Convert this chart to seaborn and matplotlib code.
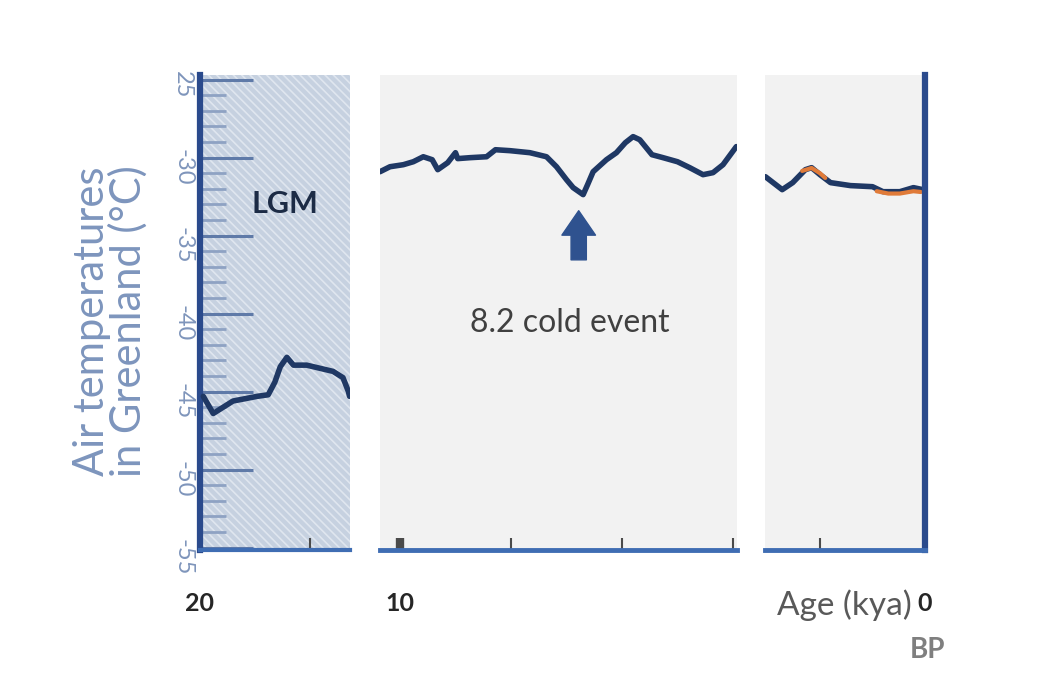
import numpy as np
import pandas as pd
import matplotlib
matplotlib.use("Agg")
import matplotlib.pyplot as plt
import seaborn as sns
from matplotlib.patches import Rectangle

# ---------------- data (age in kya, temperature in degC) ----------------
left_age = [19.97, 19.88, 19.70, 19.48, 19.38, 19.32, 19.27, 19.21, 19.15,
            19.03, 18.91, 18.79, 18.70, 18.65, 18.64]
left_temp = [-45.3, -46.4, -45.6, -45.3, -45.2, -44.4, -43.4, -42.8, -43.3,
             -43.3, -43.5, -43.7, -44.1, -45.0, -45.3]

mid_age = [10.18, 10.09, 9.97, 9.88, 9.79, 9.71, 9.66, 9.57, 9.50, 9.48, 9.37,
           9.22, 9.14, 9.01, 8.83, 8.68, 8.59, 8.50, 8.44, 8.35, 8.31, 8.26,
           8.14, 8.05, 7.97, 7.90, 7.84, 7.73, 7.63, 7.50, 7.39, 7.27, 7.18,
           7.09, 6.97]
mid_temp = [-30.90, -30.58, -30.45, -30.26, -29.94, -30.13, -30.77, -30.32,
            -29.68, -30.06, -30.00, -29.94, -29.49, -29.55, -29.68, -29.94,
            -30.58, -31.41, -31.92, -32.37, -31.73, -30.90, -30.13, -29.68,
            -29.04, -28.65, -28.85, -29.81, -30.00, -30.26, -30.64, -31.09,
            -30.96, -30.45, -29.29]

right_age = [1.52, 1.36, 1.26, 1.14, 1.08, 1.00, 0.90, 0.71, 0.50, 0.40, 0.24,
             0.11, 0.02]
right_temp = [-31.22, -32.05, -31.60, -30.77, -30.64, -31.09, -31.60, -31.79,
              -31.86, -32.18, -32.18, -31.92, -32.05]

orange_a_age = [1.17, 1.08, 1.00, 0.95]
orange_a_temp = [-30.85, -30.66, -31.00, -31.30]
orange_b_age = [0.46, 0.35, 0.24, 0.11, 0.04]
orange_b_temp = [-32.15, -32.30, -32.30, -32.15, -32.20]

y_ticks = [-55, -50, -45, -40, -35, -30, -25]
y_tick_labels = ["-55", "-50", "-45", "-40", "-35", "-30", "25"]

# ---------------- style ----------------
sns.set_theme(style="white")
plt.rcParams["font.family"] = ["Lato", "DejaVu Sans"]
plt.rcParams["hatch.linewidth"] = 1.2

NAVY = "#1f3864"
ORANGE = "#e07b39"
AXBLUE = "#3f6db3"
DARKBLUE = "#2a4a8c"

fig = plt.figure(figsize=(10.5, 7), dpi=100)
fig.patch.set_facecolor("white")

W, H = 1050, 700
ybot, ytop = 550, 75


def rect(x0, x1):
    return [x0 / W, 1 - ybot / H, (x1 - x0) / W, (ybot - ytop) / H]


ax_l = fig.add_axes(rect(200, 350))
ax_m = fig.add_axes(rect(380, 737))
ax_r = fig.add_axes(rect(765, 925))

ylim = (-55.15, -24.7)

# ---------- left panel ----------
ax_l.set_facecolor("#c6d1e0")
ax_l.add_patch(Rectangle((0, 0), 1, 1, transform=ax_l.transAxes,
                         facecolor="#c6d1e0", edgecolor="#dfe6ef",
                         hatch="\\\\\\\\", lw=0, zorder=0))
sns.lineplot(x=left_age, y=left_temp, ax=ax_l, color=NAVY, lw=4,
             sort=False, zorder=5)
ax_l.set_xlim(20.0, 18.636)
ax_l.set_ylim(*ylim)
for s in ["top", "right"]:
    ax_l.spines[s].set_visible(False)
ax_l.spines["left"].set_color(DARKBLUE)
ax_l.spines["left"].set_linewidth(4.5)
ax_l.spines["bottom"].set_color(AXBLUE)
ax_l.spines["bottom"].set_linewidth(3)
ax_l.set_yticks(y_ticks)
ax_l.set_yticklabels(y_tick_labels)
ax_l.set_yticks(np.arange(-55, -24, 1), minor=True)
ax_l.tick_params(axis="y", which="major", direction="in", length=38, width=2.2,
                 color="#5f7aa8", labelsize=17, labelcolor="#7f95bb",
                 labelrotation=-90, pad=5, left=True)
ax_l.tick_params(axis="y", which="minor", direction="in", length=19,
                 width=2, color="#8ea2c3", left=True)
ax_l.set_xticks([20, 19])
ax_l.set_xticklabels(["20", ""], fontweight="bold", color="#262626")
ax_l.tick_params(axis="x", direction="in", length=9, width=1.5,
                 color="#4a4a4a", pad=30, labelsize=18, bottom=True)
ax_l.set_xlabel("")
ax_l.set_ylabel("Air temperatures\nin Greenland (°C)", fontsize=30,
                color="#7d95bd", linespacing=0.9)
ax_l.yaxis.set_label_coords(-0.35, 0.482)
ax_l.text(19.23, -32.95, "LGM", fontsize=22, fontweight="bold",
          color="#1c2b45", ha="center", va="center", zorder=6)

# ---------- middle panel ----------
ax_m.set_facecolor("#f2f2f2")
sns.lineplot(x=mid_age, y=mid_temp, ax=ax_m, color=NAVY, lw=4, sort=False)
ax_m.set_xlim(10.18, 6.964)
ax_m.set_ylim(*ylim)
for s in ["top", "right", "left"]:
    ax_m.spines[s].set_visible(False)
ax_m.spines["bottom"].set_color(AXBLUE)
ax_m.spines["bottom"].set_linewidth(3.5)
ax_m.set_yticks([])
ax_m.set_xticks([10, 9, 8, 7])
ax_m.set_xticklabels(["10", "", "", ""], fontweight="bold", color="#262626")
ax_m.tick_params(axis="x", direction="in", length=9, width=1.5,
                 color="#4a4a4a", pad=30, labelsize=18, bottom=True)
ax_m.xaxis.get_major_ticks()[0].tick1line.set_markeredgewidth(6)
ax_m.set_xlabel("")
ax_m.set_ylabel("")
ax_m.annotate("", xy=(8.39, -33.4), xytext=(8.39, -36.55),
              arrowprops=dict(arrowstyle="simple,head_width=1.1,head_length=0.8,tail_width=0.5",
                              mutation_scale=22, color="#2f528f",
                              shrinkA=0, shrinkB=0))
ax_m.text(8.47, -40.6, "8.2 cold event", fontsize=23, color="#404040",
          ha="center", va="center")

# ---------- right panel ----------
ax_r.set_facecolor("#f2f2f2")
sns.lineplot(x=right_age, y=right_temp, ax=ax_r, color=NAVY, lw=4, sort=False)
sns.lineplot(x=orange_a_age, y=orange_a_temp, ax=ax_r, color=ORANGE, lw=3,
             sort=False)
sns.lineplot(x=orange_b_age, y=orange_b_temp, ax=ax_r, color=ORANGE, lw=3,
             sort=False)
ax_r.set_xlim(1.524, 0.0)
ax_r.set_ylim(*ylim)
for s in ["top", "left"]:
    ax_r.spines[s].set_visible(False)
ax_r.spines["bottom"].set_color(AXBLUE)
ax_r.spines["bottom"].set_linewidth(3.5)
ax_r.spines["right"].set_color(DARKBLUE)
ax_r.spines["right"].set_linewidth(4.5)
ax_r.set_yticks([])
ax_r.set_xticks([1, 0])
ax_r.set_xticklabels(["", "0"], fontweight="bold", color="#262626")
ax_r.tick_params(axis="x", direction="in", length=9, width=1.5,
                 color="#4a4a4a", pad=30, labelsize=18, bottom=True)
ax_r.set_xlabel("")
ax_r.set_ylabel("")

fig.text(912 / W, 1 - 605 / H, "Age (kya)", fontsize=24, color="#595959",
         ha="right", va="center")
fig.text(927 / W, 1 - 650 / H, "BP", fontsize=20, fontweight="bold",
         color="#7f7f7f", ha="center", va="center")

fig.savefig("out.png", dpi=100)
